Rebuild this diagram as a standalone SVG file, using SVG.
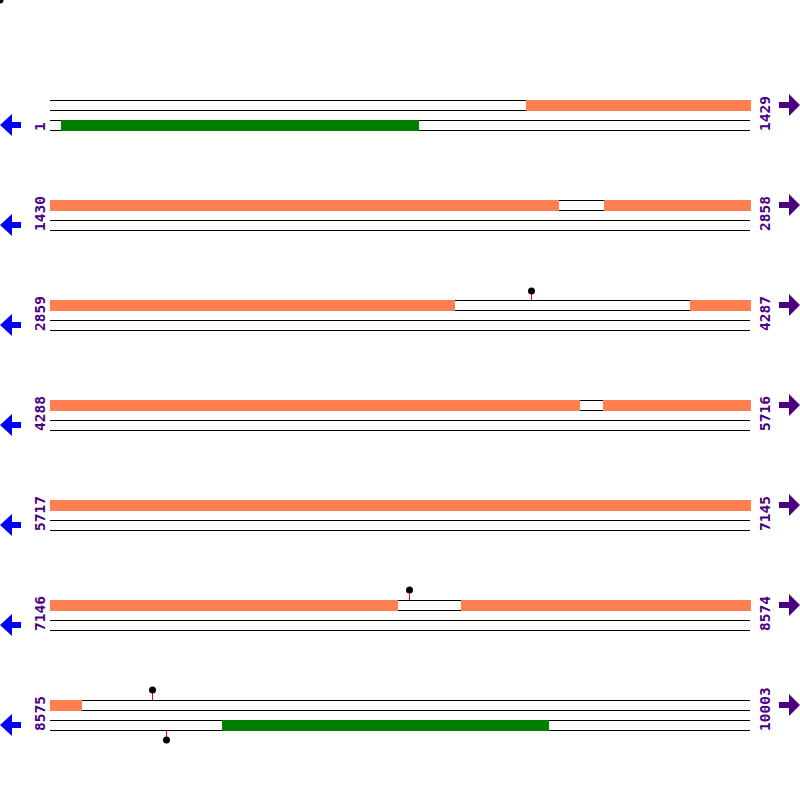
<svg xmlns="http://www.w3.org/2000/svg" width="800" height="800" viewBox="0 0 800 800">
<style>
.ln{stroke:#000;stroke-width:1;fill:none}
.fw{fill:#FF7F50}
.cds{fill:#008000}
.lbl{font-family:"DejaVu Sans Mono","Liberation Mono",monospace;font-size:14.5px;font-weight:bold;fill:#4B0082}
.la{fill:#0000FF}
.ra{fill:#4B0082}
.stem{stroke:#FF0000;stroke-width:1}
.dot{fill:#000}
</style>
<defs>
<g id="strands">
<line class="ln" x1="50" y1="100.5" x2="750" y2="100.5"/>
<line class="ln" x1="50" y1="110.5" x2="750" y2="110.5"/>
<line class="ln" x1="50" y1="120.5" x2="750" y2="120.5"/>
<line class="ln" x1="50" y1="130.5" x2="750" y2="130.5"/>
</g>
<polygon id="larrow" points="0,125 12,114 12,122 21,122 21,128 12,128 12,136"/>
<polygon id="rarrow" points="800,105 789,94 789,102 779,102 779,108 789,108 789,116"/>
</defs>
<circle class="dot" cx="0" cy="0" r="3.5"/>
<g id="row1">
<use href="#strands"/>
<rect class="fw" x="526" y="100" width="225" height="11"/>
<rect class="cds" x="61" y="120" width="358" height="11"/>
<text class="lbl" transform="translate(45,131) rotate(-90)">1</text>
<text class="lbl" transform="translate(770,131) rotate(-90)">1429</text>
<use href="#larrow" class="la"/>
<use href="#rarrow" class="ra"/>
</g>
<g id="row2" transform="translate(0,100)">
<use href="#strands"/>
<rect class="fw" x="50" y="100" width="509" height="11"/>
<rect class="fw" x="604" y="100" width="147" height="11"/>
<text class="lbl" transform="translate(45,131) rotate(-90)">1430</text>
<text class="lbl" transform="translate(770,131) rotate(-90)">2858</text>
<use href="#larrow" class="la"/>
<use href="#rarrow" class="ra"/>
</g>
<g id="row3" transform="translate(0,200)">
<use href="#strands"/>
<rect class="fw" x="50" y="100" width="405" height="11"/>
<rect class="fw" x="690" y="100" width="61" height="11"/>
<text class="lbl" transform="translate(45,131) rotate(-90)">2859</text>
<text class="lbl" transform="translate(770,131) rotate(-90)">4287</text>
<use href="#larrow" class="la"/>
<use href="#rarrow" class="ra"/>
</g>
<g id="row4" transform="translate(0,300)">
<use href="#strands"/>
<rect class="fw" x="50" y="100" width="530" height="11"/>
<rect class="fw" x="603" y="100" width="148" height="11"/>
<text class="lbl" transform="translate(45,131) rotate(-90)">4288</text>
<text class="lbl" transform="translate(770,131) rotate(-90)">5716</text>
<use href="#larrow" class="la"/>
<use href="#rarrow" class="ra"/>
</g>
<g id="row5" transform="translate(0,400)">
<use href="#strands"/>
<rect class="fw" x="50" y="100" width="701" height="11"/>
<text class="lbl" transform="translate(45,131) rotate(-90)">5717</text>
<text class="lbl" transform="translate(770,131) rotate(-90)">7145</text>
<use href="#larrow" class="la"/>
<use href="#rarrow" class="ra"/>
</g>
<g id="row6" transform="translate(0,500)">
<use href="#strands"/>
<rect class="fw" x="50" y="100" width="348" height="11"/>
<rect class="fw" x="461" y="100" width="290" height="11"/>
<text class="lbl" transform="translate(45,131) rotate(-90)">7146</text>
<text class="lbl" transform="translate(770,131) rotate(-90)">8574</text>
<use href="#larrow" class="la"/>
<use href="#rarrow" class="ra"/>
</g>
<g id="row7" transform="translate(0,600)">
<use href="#strands"/>
<rect class="fw" x="50" y="100" width="32" height="11"/>
<rect class="cds" x="222" y="120" width="327" height="11"/>
<text class="lbl" transform="translate(45,131) rotate(-90)">8575</text>
<text class="lbl" transform="translate(770,131) rotate(-90)">10003</text>
<use href="#larrow" class="la"/>
<use href="#rarrow" class="ra"/>
</g>
<g id="markers">
<line class="stem" x1="531.5" y1="293" x2="531.5" y2="300"/>
<circle class="dot" cx="531.5" cy="291" r="3.5"/>
<line class="stem" x1="409.5" y1="593" x2="409.5" y2="600"/>
<circle class="dot" cx="409.5" cy="590" r="3.5"/>
<line class="stem" x1="152.5" y1="693" x2="152.5" y2="700"/>
<circle class="dot" cx="152.5" cy="690" r="3.5"/>
<line class="stem" x1="166.5" y1="731" x2="166.5" y2="738"/>
<circle class="dot" cx="166.5" cy="740" r="3.5"/>
</g>
</svg>
